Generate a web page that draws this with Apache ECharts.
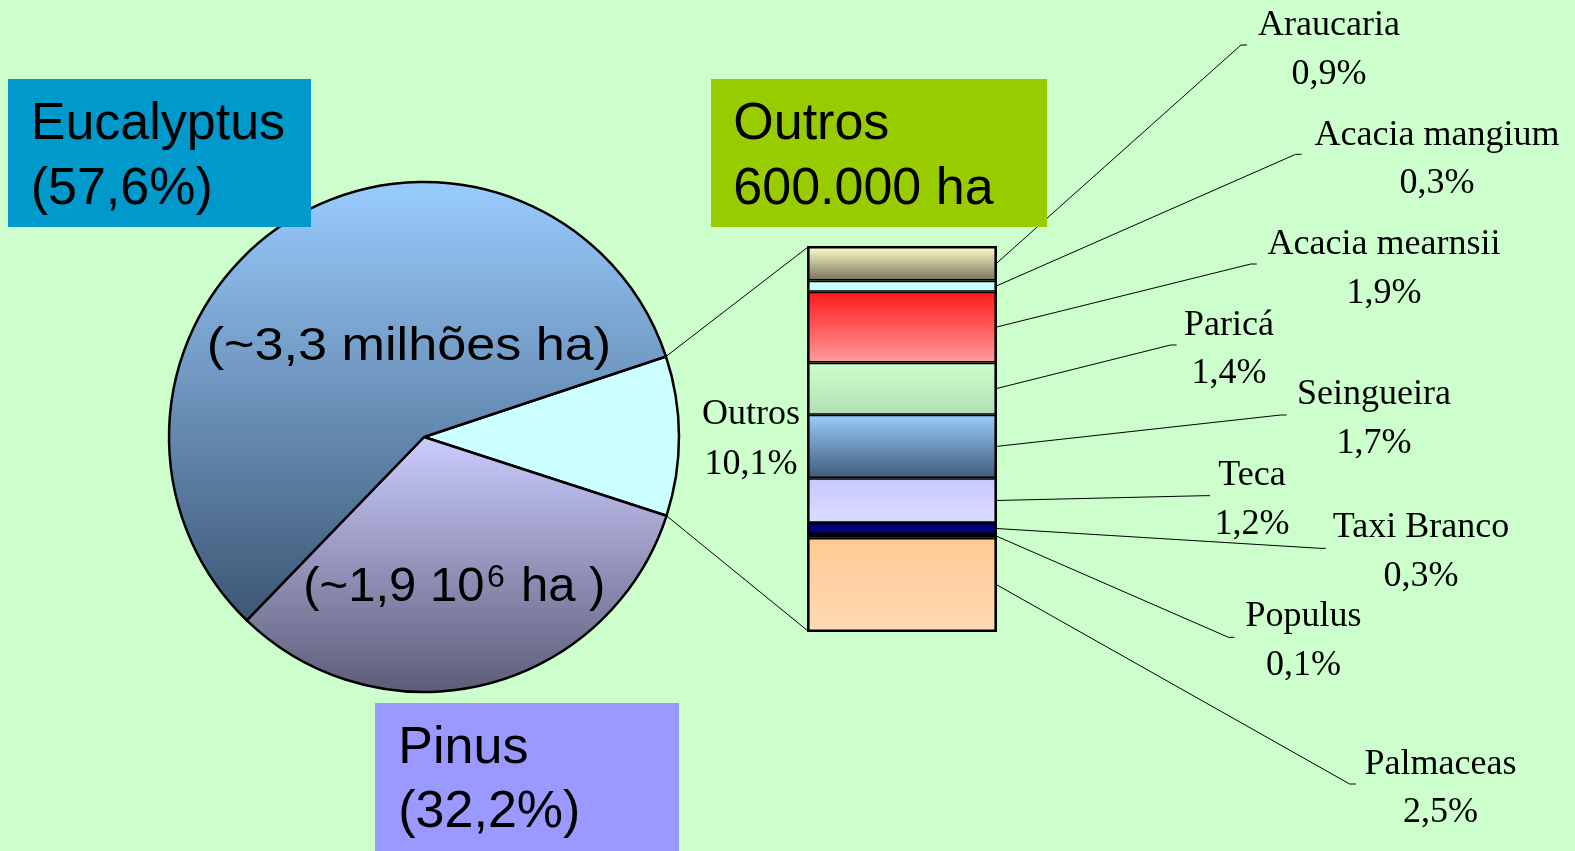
<!DOCTYPE html>
<html><head><meta charset="utf-8">
<script src="https://cdn.jsdelivr.net/npm/echarts@6/dist/echarts.min.js"></script>
<style>html,body{margin:0;padding:0;background:#ccffcc;overflow:hidden}#c{width:1575px;height:851px}</style>
</head><body><div id="c"></div>
<script>
// ---- data ----
const pieNames = ['Outros', 'Pinus', 'Eucalyptus'];
const pieValues = [10.1, 32.2, 57.6];
const barNames = ['Araucaria', 'Acacia mangium', 'Acacia mearnsii', 'Paricá', 'Seingueira', 'Teca', 'Taxi Branco', 'Populus', 'Palmaceas'];
const barValues = [0.9, 0.3, 1.9, 1.4, 1.7, 1.2, 0.3, 0.1, 2.5];

// ---- styles / layout ----
function lg(c0, c1) { return {type: 'linear', x: 0, y: 0, x2: 0, y2: 1, colorStops: [{offset: 0, color: c0}, {offset: 1, color: c1}]}; }
const pieColors = [lg('#ccffff', '#ccffff'), lg('#ccccff', '#5c5c78'), lg('#99ccff', '#3d5673')];
const barColors = [lg('#ffffcc', '#76735c'), lg('#ccffff', '#ccffff'), lg('#ff1a1a', '#ff9c9c'), lg('#ccffcc', '#b2dfb2'),
  lg('#99ccff', '#405a78'), lg('#c8c8ff', '#dcdcff'), lg('#000080', '#000080'), lg('#000000', '#000000'), lg('#ffc993', '#ffdab3')];
const pieCenter = [424, 437], pieRadius = 255, pieStart = 18.4;
const dy = 3;
// [tail end x, tail y, text centre x, text centre y]
const labelSpots = [
  [1247, 45, 1329, 47], [1301.6, 154.3, 1437, 156.4], [1256.8, 264, 1384, 265.8],
  [1176.6, 345, 1229, 346.7], [1286.6, 415, 1374, 416], [1210, 495.7, 1252, 497],
  [1325.8, 548.3, 1421, 549], [1234.4, 637.3, 1303.5, 637.8], [1355.7, 784, 1440.5, 785.3]
];
const fmt = v => v.toFixed(1).replace('.', ',') + '%';
const barTotal = barValues.reduce((a, b) => a + b, 0);
const pieTotal = pieValues.reduce((a, b) => a + b, 0);

const chart = echarts.init(document.getElementById('c'));

const barSeries = barNames.map((n, i) => ({
  type: 'bar', name: n, stack: 'o', barWidth: '100%', silent: true,
  data: [barValues[i]],
  itemStyle: {color: barColors[i], borderColor: '#000', borderWidth: 1.6},
  z: 3
}));

const guideSeries = {
  type: 'custom', coordinateSystem: 'cartesian2d', silent: true, clip: false, z: 5,
  data: barNames.map((n, i) => [0, i]),
  renderItem: function (params, api) {
    const i = params.dataIndex;
    let start = 0;
    for (let k = 0; k < i; k++) start += barValues[k];
    const mid = start + barValues[i] / 2;
    const p = api.coord([0, mid]);
    const bw = api.size([1, 0])[0];
    const xr = p[0] + bw / 2;
    const s = labelSpots[i];
    const children = [
      {type: 'polyline', shape: {points: [[xr, p[1]], [s[0] - 6, s[1]], [s[0], s[1]]]},
        style: {stroke: '#000', lineWidth: 1, fill: null}},
      {type: 'text', x: s[2], y: s[3] + dy, style: {text: barNames[i] + '\n' + fmt(barValues[i]),
        font: '36px "Liberation Serif"', fill: '#000', align: 'center', verticalAlign: 'middle', lineHeight: 48.5}}
    ];
    if (i === 0) {
      const top = api.coord([0, 0]);
      const bot = api.coord([0, barTotal]);
      const xl = top[0] - bw / 2;
      children.push({type: 'rect', shape: {x: xl, y: top[1], width: bw, height: bot[1] - top[1]},
        style: {fill: null, stroke: '#000', lineWidth: 2}});
      const a0 = pieStart * Math.PI / 180;
      const a1 = (pieStart - pieValues[0] / pieTotal * 360) * Math.PI / 180;
      const u = [pieCenter[0] + pieRadius * Math.cos(a0), pieCenter[1] - pieRadius * Math.sin(a0)];
      const l = [pieCenter[0] + pieRadius * Math.cos(a1), pieCenter[1] - pieRadius * Math.sin(a1)];
      children.push({type: 'line', shape: {x1: u[0], y1: u[1], x2: xl, y2: top[1]}, style: {stroke: '#000', lineWidth: 1}});
      children.push({type: 'line', shape: {x1: l[0], y1: l[1], x2: xl, y2: bot[1]}, style: {stroke: '#000', lineWidth: 1}});
    }
    return {type: 'group', children: children};
  }
};

const sans = '"Liberation Sans", Arial, sans-serif';
const option = {
  backgroundColor: '#ccffcc',
  animation: false,
  grid: {left: 808, top: 247, width: 188, height: 384},
  xAxis: {type: 'category', data: ['Outros'], show: false},
  yAxis: {type: 'value', min: 0, max: barTotal, inverse: true, show: false},
  series: [
    {
      type: 'pie', center: pieCenter, radius: pieRadius, startAngle: pieStart, clockwise: true,
      silent: true, label: {show: false}, labelLine: {show: false}, z: 2,
      itemStyle: {borderColor: '#000', borderWidth: 2.5},
      data: pieNames.map((n, i) => ({name: n, value: pieValues[i], itemStyle: {color: pieColors[i]}}))
    },
    ...barSeries,
    guideSeries
  ],
  graphic: [
    {type: 'rect', z: 100, shape: {x: 8, y: 79, width: 303, height: 148}, style: {fill: '#0099cc'}},
    {type: 'rect', z: 100, shape: {x: 711, y: 79, width: 336, height: 148}, style: {fill: '#99cc00'}},
    {type: 'rect', z: 100, shape: {x: 375, y: 703, width: 304, height: 160}, style: {fill: '#9999ff'}},
    {type: 'text', z: 101, x: 30.7, y: 154.5 + dy, style: {text: 'Eucalyptus\n(57,6%)', font: '52px ' + sans, fill: '#000', align: 'left', verticalAlign: 'middle', lineHeight: 65}},
    {type: 'text', z: 101, x: 733.3, y: 154.5 + dy, style: {text: 'Outros\n600.000 ha', font: '52px ' + sans, fill: '#000', align: 'left', verticalAlign: 'middle', lineHeight: 65}},
    {type: 'text', z: 101, x: 398.3, y: 777.3 + dy, style: {text: 'Pinus\n(32,2%)', font: '52px ' + sans, fill: '#000', align: 'left', verticalAlign: 'middle', lineHeight: 64}},
    {type: 'text', z: 101, x: 206.7, y: 343.7 + dy, scaleX: 1.11, style: {text: '(~3,3 milhões ha)', font: '47px ' + sans, fill: '#000', align: 'left', verticalAlign: 'middle'}},
    {type: 'text', z: 101, x: 303.3, y: 584.7 + dy, style: {text: '(~1,9 10', font: '49px ' + sans, fill: '#000', align: 'left', verticalAlign: 'middle'}},
    {type: 'text', z: 101, x: 487, y: 575 + dy, style: {text: '6', font: '32px ' + sans, fill: '#000', align: 'left', verticalAlign: 'middle'}},
    {type: 'text', z: 101, x: 521, y: 584.7 + dy, style: {text: 'ha )', font: '49px ' + sans, fill: '#000', align: 'left', verticalAlign: 'middle'}},
    {type: 'text', z: 101, x: 751, y: 436.5 + dy, style: {text: 'Outros\n10,1%', font: '36px "Liberation Serif"', fill: '#000', align: 'center', verticalAlign: 'middle', lineHeight: 50}}
  ]
};
chart.setOption(option);
</script>
</body></html>
